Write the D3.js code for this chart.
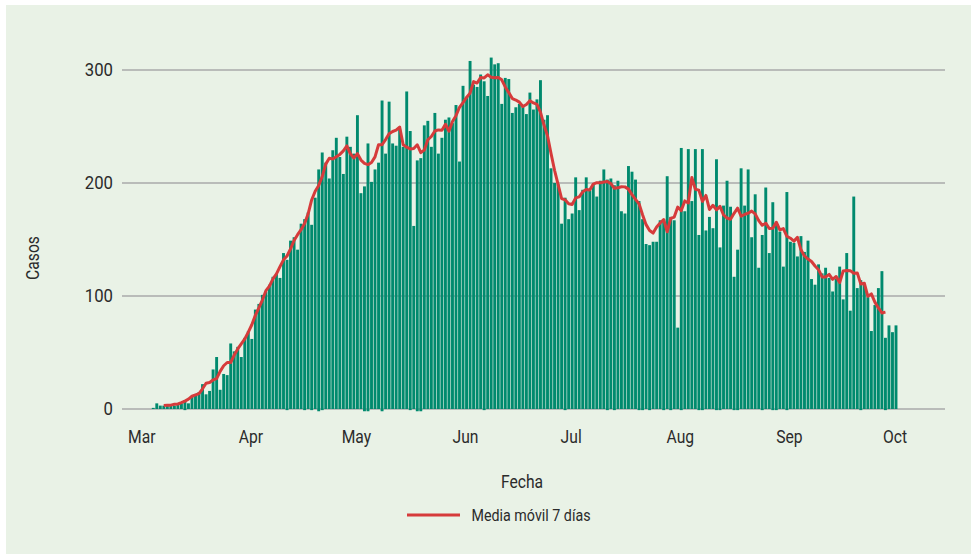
<!DOCTYPE html>
<html>
<head>
<meta charset="utf-8">
<script src="https://cdn.jsdelivr.net/npm/d3@7"></script>
<style>
  body { margin: 0; background: #ffffff; }
  svg text { font-family: Roboto, "Noto Sans", sans-serif; fill: #2b2b2b; }
</style>
</head>
<body>
<div id="chart"></div>
<script>
// casos diarios desde el 4 de marzo hasta el 1 de octubre
var fechaInicio = "2020-03-04";
var casos = [
  1, 5, 3, 3, 3, 3, 3, 4, 5, 8,
  5, 11, 13, 15, 22, 13, 16, 35, 46, 17,
  31, 30, 58, 51, 55, 46, 63, 69, 62, 88,
  93, 101, 104, 110, 117, 120, 116, 138, 132, 149,
  152, 141, 164, 168, 174, 163, 187, 212, 227, 218,
  204, 229, 240, 223, 208, 241, 232, 226, 260, 191,
  197, 235, 201, 212, 218, 273, 226, 272, 235, 233,
  248, 232, 281, 246, 162, 220, 222, 251, 255, 232,
  262, 226, 240, 256, 258, 253, 269, 219, 286, 276,
  308, 287, 285, 296, 290, 277, 311, 305, 306, 270,
  293, 292, 262, 267, 270, 269, 261, 280, 265, 274,
  291, 256, 260, 213, 200, 199, 164, 187, 168, 173,
  205, 176, 194, 205, 193, 199, 188, 202, 212, 203,
  204, 198, 202, 175, 173, 215, 210, 203, 184, 168,
  146, 145, 148, 148, 167, 168, 206, 170, 167, 72,
  231, 175, 230, 184, 230, 154, 230, 158, 170, 160,
  221, 143, 180, 202, 179, 117, 141, 213, 180, 212,
  152, 190, 125, 154, 196, 138, 183, 165, 157, 126,
  192, 148, 147, 135, 153, 139, 149, 115, 110, 128,
  120, 125, 116, 104, 115, 126, 97, 138, 87, 188,
  107, 114, 110, 99, 69, 92, 107, 122, 63, 74,
  68, 74
];
// pequenos ajustes negativos
var fechasAjuste = ["2020-03-13", "2020-04-11", "2020-04-16", "2020-04-18", "2020-04-20",
                    "2020-04-21", "2020-05-03", "2020-05-04", "2020-05-08", "2020-05-16",
                    "2020-05-18", "2020-05-19", "2020-06-06", "2020-06-29", "2020-07-11",
                    "2020-07-13", "2020-07-20", "2020-07-21", "2020-07-23", "2020-07-27",
                    "2020-07-29", "2020-08-01", "2020-08-06", "2020-08-07", "2020-08-11",
                    "2020-08-12", "2020-08-16", "2020-08-17", "2020-08-24", "2020-08-27",
                    "2020-08-28", "2020-08-31", "2020-09-21", "2020-09-28"];
var ajustes = [-1, -1, -1, -1, -2, -1, -2, -2, -2, -1,
               -2, -2, -1, -1, -1, -1, -1, -1, -1, -1,
               -1, -1, -1, -1, -1, -1, -1, -1, -1, -1,
               -1, -1, -1, -1];
var meses = ["2020-03-01", "2020-04-01", "2020-05-01", "2020-06-01",
             "2020-07-01", "2020-08-01", "2020-09-01", "2020-10-01"];
var ticksY = [0, 100, 200, 300];

var W = 971, H = 554;
var parse = d3.timeParse("%Y-%m-%d");
var inicio = parse(fechaInicio);

var data = casos.map(function(v, i) {
    return {fecha: d3.timeDay.offset(inicio, i), valor: v};
});
var negativos = ajustes.map(function(v, i) {
    return {fecha: parse(fechasAjuste[i]), valor: v};
});

// media movil centrada de 7 dias
var media = [];
for (var i = 3; i < data.length - 3; i++) {
    media.push({fecha: data[i].fecha, valor: d3.mean(data.slice(i - 3, i + 4), function(d) { return d.valor; })});
}

var svg = d3.select("#chart")
    .append("svg")
    .attr("width", W)
    .attr("height", H);

svg.append("rect")
    .attr("x", 6)
    .attr("y", 5)
    .attr("width", W - 6)
    .attr("height", H - 5)
    .style("fill", "#e9f2e6");

var x = d3.scaleTime()
    .domain([parse(meses[0]), parse(meses[meses.length - 1])])
    .range([141.7, 895]);

var y = d3.scaleLinear()
    .domain([0, 300])
    .range([409, 70]);

var barW = 2.9;
var estrecho = " scale(0.87,1)";   // imita una fuente condensada

// lineas de la grilla
svg.selectAll(".grid")
    .data(ticksY)
    .enter()
    .append("line")
    .attr("class", "grid")
    .attr("x1", 122)
    .attr("x2", 945)
    .attr("y1", function(d) { return y(d); })
    .attr("y2", function(d) { return y(d); })
    .style("stroke", "#a8aaaa")
    .style("stroke-width", 1.6);

svg.selectAll(".tickY")
    .data(ticksY)
    .enter()
    .append("text")
    .attr("class", "tickY")
    .attr("transform", function(d) { return "translate(113," + (y(d) + 5.5) + ")" + " scale(0.93,1)"; })
    .attr("text-anchor", "end")
    .style("font-size", "18px")
    .text(function(d) { return d; });

svg.selectAll(".tickX")
    .data(meses)
    .enter()
    .append("text")
    .attr("class", "tickX")
    .attr("transform", function(d) { return "translate(" + x(parse(d)) + ",443)" + estrecho; })
    .attr("text-anchor", "middle")
    .style("font-size", "18px")
    .text(function(d) { return d3.timeFormat("%b")(parse(d)); });

svg.selectAll(".bar")
    .data(data.concat(negativos))
    .enter()
    .append("rect")
    .attr("class", "bar")
    .attr("x", function(d) { return x(d.fecha) - barW / 2 + 1; })
    .attr("width", barW)
    .attr("y", function(d) { return Math.min(y(d.valor), y(0)); })
    .attr("height", function(d) { return Math.abs(y(0) - y(d.valor)); })
    .style("fill", "#008a6e");

var linea = d3.line()
    .x(function(d) { return x(d.fecha) + 1; })
    .y(function(d) { return y(d.valor); });

svg.append("path")
    .datum(media)
    .attr("d", linea)
    .style("fill", "none")
    .style("stroke", "#d63b3b")
    .style("stroke-width", 3)
    .style("stroke-linejoin", "round");

// titulos de ejes
svg.append("text")
    .attr("transform", "translate(38.5,258) rotate(-90)" + estrecho)
    .attr("text-anchor", "middle")
    .style("font-size", "18px")
    .text("Casos");

svg.append("text")
    .attr("transform", "translate(522,488)" + estrecho)
    .attr("text-anchor", "middle")
    .style("font-size", "18px")
    .text("Fecha");

// leyenda
svg.append("line")
    .attr("x1", 407)
    .attr("x2", 460)
    .attr("y1", 515)
    .attr("y2", 515)
    .style("stroke", "#d63b3b")
    .style("stroke-width", 3);

svg.append("text")
    .attr("transform", "translate(471.5,520.5) scale(0.84,1)")
    .style("font-size", "17px")
    .text("Media móvil 7 días");
</script>
</body>
</html>
